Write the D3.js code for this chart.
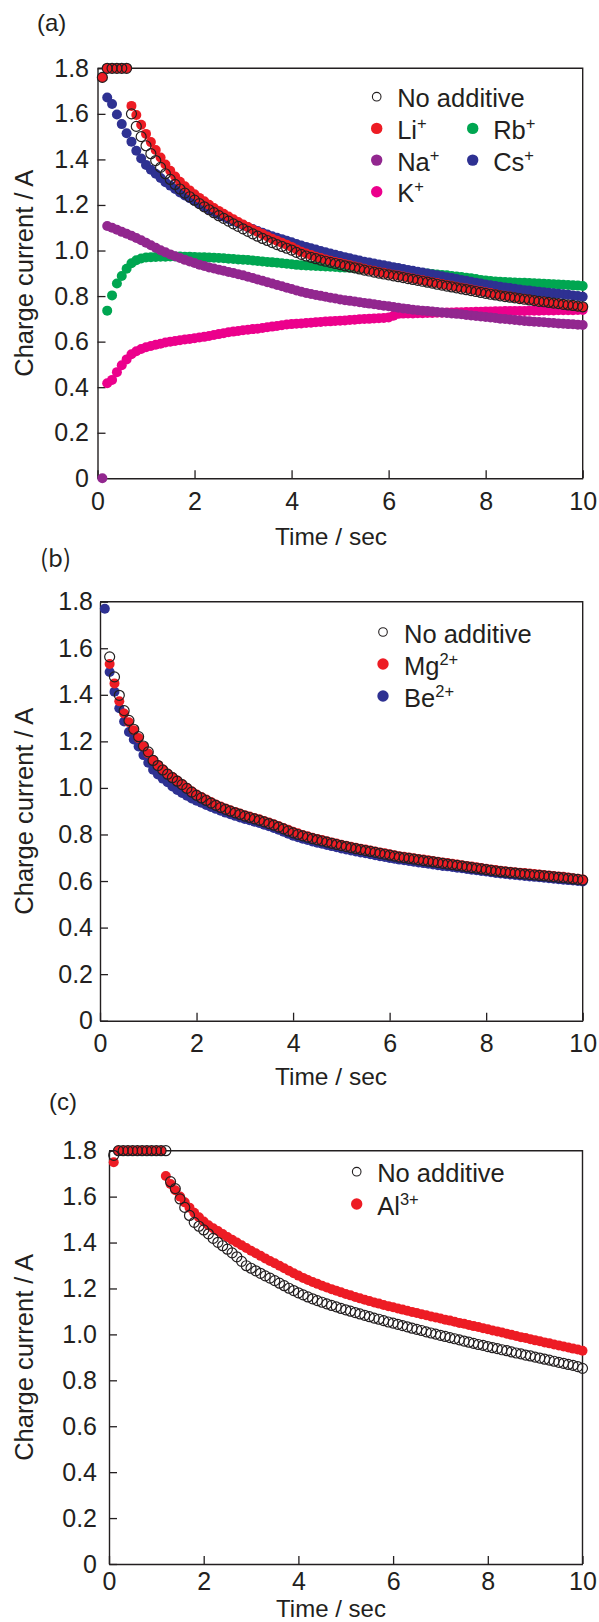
<!DOCTYPE html>
<html><head><meta charset="utf-8">
<script src="https://cdn.jsdelivr.net/npm/d3@7"></script>
<style>
body{margin:0;background:#fff}
svg text{font-family:"Liberation Sans",Arial,Helvetica,sans-serif;fill:#231F20}
</style>
</head><body>
<svg id="chart" width="599" height="1622"></svg>
<script>
// ---------- DATA ----------
const time = [
0.1,0.2,0.3,0.4,0.5,0.6,0.7,0.8,0.9,1.0,
1.1,1.2,1.3,1.4,1.5,1.6,1.7,1.8,1.9,2.0,
2.1,2.2,2.3,2.4,2.5,2.6,2.7,2.8,2.9,3.0,
3.1,3.2,3.3,3.4,3.5,3.6,3.7,3.8,3.9,4.0,
4.1,4.2,4.3,4.4,4.5,4.6,4.7,4.8,4.9,5.0,
5.1,5.2,5.3,5.4,5.5,5.6,5.7,5.8,5.9,6.0,
6.1,6.2,6.3,6.4,6.5,6.6,6.7,6.8,6.9,7.0,
7.1,7.2,7.3,7.4,7.5,7.6,7.7,7.8,7.9,8.0,
8.1,8.2,8.3,8.4,8.5,8.6,8.7,8.8,8.9,9.0,
9.1,9.2,9.3,9.4,9.5,9.6,9.7,9.8,9.9,10.0];

const xTicks = [0,2,4,6,8,10];
const xTickLabels = ["0","2","4","6","8","10"];
const yTicks = [0,0.2,0.4,0.6,0.8,1.0,1.2,1.4,1.6,1.8];
const yTickLabels = ["0","0.2","0.4","0.6","0.8","1.0","1.2","1.4","1.6","1.8"];

// (a) monovalent additives
const noAdditiveA = [
1.76,1.80,1.80,1.80,1.80,1.80,1.60,1.545,1.50,1.46,
1.425,1.395,1.365,1.337,1.312,1.29,1.27,1.252,1.236,1.221,
1.206,1.192,1.179,1.166,1.153,1.141,1.129,1.117,1.106,1.095,
1.084,1.073,1.063,1.053,1.044,1.035,1.026,1.018,1.010,1.002,
0.992,0.983,0.976,0.970,0.964,0.958,0.953,0.948,0.943,0.938,
0.933,0.928,0.924,0.919,0.914,0.910,0.905,0.901,0.897,0.893,
0.889,0.885,0.881,0.877,0.873,0.869,0.865,0.861,0.857,0.852,
0.848,0.844,0.840,0.836,0.832,0.828,0.824,0.820,0.816,0.812,
0.808,0.805,0.801,0.798,0.795,0.792,0.789,0.786,0.783,0.780,
0.777,0.775,0.772,0.769,0.767,0.764,0.761,0.759,0.756,0.753];
const liA = [
1.76,1.80,1.80,1.80,1.80,1.80,1.635,1.595,1.552,1.512,
1.476,1.441,1.408,1.378,1.350,1.325,1.302,1.282,1.264,1.247,
1.231,1.216,1.201,1.187,1.174,1.161,1.149,1.137,1.125,1.114,
1.103,1.092,1.082,1.072,1.062,1.052,1.043,1.034,1.025,1.016,
1.005,0.995,0.987,0.980,0.973,0.967,0.961,0.955,0.950,0.945,
0.940,0.935,0.930,0.925,0.920,0.915,0.911,0.906,0.902,0.898,
0.894,0.890,0.886,0.882,0.877,0.873,0.869,0.865,0.861,0.857,
0.853,0.849,0.845,0.841,0.837,0.833,0.829,0.825,0.821,0.817,
0.813,0.809,0.805,0.801,0.798,0.794,0.791,0.788,0.785,0.781,
0.778,0.775,0.772,0.769,0.766,0.763,0.760,0.757,0.754,0.751];
const csA = [
null,1.672,1.643,1.597,1.555,1.515,1.478,1.438,1.404,1.376,
1.355,1.337,1.318,1.300,1.285,1.270,1.255,1.242,1.230,1.218,
1.205,1.192,1.180,1.169,1.158,1.148,1.138,1.129,1.120,1.111,
1.102,1.094,1.086,1.078,1.070,1.063,1.056,1.050,1.043,1.036,
1.029,1.022,1.016,1.010,1.004,0.998,0.992,0.987,0.981,0.976,
0.971,0.966,0.961,0.956,0.951,0.947,0.943,0.939,0.935,0.931,
0.927,0.923,0.919,0.915,0.911,0.907,0.903,0.899,0.895,0.891,
0.887,0.883,0.879,0.875,0.871,0.867,0.863,0.859,0.855,0.851,
0.847,0.844,0.841,0.838,0.835,0.832,0.829,0.826,0.824,0.821,
0.819,0.817,0.815,0.812,0.810,0.808,0.806,0.803,0.800,0.797];
const rbA = [
null,0.736,0.803,0.855,0.888,0.920,0.944,0.957,0.965,0.969,
0.971,0.972,0.973,0.973,0.974,0.974,0.974,0.973,0.973,0.972,
0.971,0.970,0.969,0.968,0.967,0.966,0.964,0.963,0.961,0.960,
0.958,0.956,0.954,0.952,0.950,0.948,0.946,0.944,0.942,0.940,
0.937,0.935,0.934,0.933,0.932,0.931,0.930,0.929,0.928,0.926,
0.925,0.924,0.922,0.921,0.920,0.919,0.918,0.916,0.915,0.914,
0.912,0.911,0.909,0.907,0.905,0.903,0.901,0.899,0.897,0.895,
0.893,0.891,0.888,0.886,0.884,0.881,0.878,0.875,0.871,0.868,
0.866,0.864,0.863,0.862,0.861,0.860,0.859,0.858,0.857,0.856,
0.855,0.854,0.853,0.852,0.851,0.850,0.849,0.847,0.846,0.844];
const naA = [
0.0,1.108,1.100,1.091,1.082,1.074,1.065,1.055,1.045,1.034,
1.023,1.012,1.001,0.992,0.983,0.975,0.967,0.959,0.952,0.945,
0.938,0.932,0.926,0.921,0.916,0.911,0.906,0.901,0.896,0.891,
0.885,0.879,0.873,0.867,0.861,0.855,0.849,0.843,0.837,0.831,
0.825,0.819,0.814,0.809,0.805,0.801,0.797,0.793,0.789,0.785,
0.782,0.779,0.776,0.773,0.770,0.767,0.764,0.761,0.758,0.755,
0.752,0.749,0.746,0.743,0.740,0.738,0.736,0.734,0.732,0.730,
0.728,0.726,0.724,0.722,0.720,0.717,0.715,0.713,0.710,0.708,
0.706,0.704,0.701,0.699,0.697,0.695,0.693,0.691,0.689,0.687,
0.686,0.685,0.683,0.682,0.680,0.679,0.677,0.676,0.674,0.673];
const kA = [
null,0.417,0.432,0.466,0.496,0.522,0.545,0.558,0.568,0.575,
0.581,0.586,0.591,0.596,0.600,0.603,0.606,0.609,0.612,0.615,
0.618,0.621,0.625,0.629,0.633,0.637,0.641,0.644,0.647,0.650,
0.652,0.655,0.657,0.660,0.663,0.666,0.669,0.672,0.675,0.677,
0.679,0.680,0.682,0.683,0.685,0.686,0.688,0.689,0.691,0.692,
0.693,0.695,0.696,0.698,0.699,0.700,0.702,0.703,0.704,0.706,
0.714,0.722,0.723,0.724,0.724,0.725,0.725,0.726,0.726,0.727,
0.727,0.728,0.728,0.729,0.729,0.730,0.730,0.731,0.731,0.732,
0.732,0.733,0.733,0.734,0.734,0.735,0.735,0.735,0.736,0.736,
0.736,0.737,0.737,0.737,0.738,0.738,0.738,0.738,0.739,0.739];

// (b) divalent additives
const noAdditiveB = [
null,1.563,1.477,1.398,1.332,1.290,1.252,1.220,1.180,1.155,
1.118,1.096,1.077,1.059,1.044,1.029,1.014,0.998,0.982,0.968,
0.957,0.946,0.935,0.925,0.916,0.908,0.900,0.893,0.886,0.879,
0.873,0.867,0.861,0.854,0.847,0.840,0.832,0.824,0.815,0.807,
0.800,0.794,0.788,0.782,0.777,0.772,0.767,0.762,0.757,0.752,
0.748,0.743,0.739,0.735,0.731,0.727,0.723,0.719,0.715,0.711,
0.707,0.703,0.700,0.697,0.694,0.691,0.688,0.685,0.682,0.679,
0.676,0.673,0.670,0.667,0.664,0.661,0.658,0.655,0.652,0.649,
0.646,0.643,0.640,0.638,0.636,0.634,0.632,0.630,0.628,0.626,
0.624,0.622,0.620,0.618,0.616,0.614,0.612,0.609,0.607,0.604];
const mgB = [
null,1.532,1.449,1.372,1.320,1.282,1.248,1.214,1.178,1.148,
1.120,1.099,1.080,1.062,1.047,1.032,1.017,1.001,0.986,0.972,
0.961,0.950,0.939,0.929,0.920,0.912,0.904,0.897,0.890,0.883,
0.877,0.871,0.865,0.858,0.851,0.844,0.836,0.828,0.820,0.812,
0.805,0.798,0.792,0.786,0.781,0.776,0.771,0.766,0.761,0.756,
0.752,0.747,0.743,0.739,0.735,0.731,0.727,0.723,0.719,0.715,
0.711,0.707,0.704,0.701,0.698,0.695,0.692,0.689,0.686,0.683,
0.680,0.677,0.674,0.671,0.668,0.665,0.662,0.659,0.656,0.653,
0.650,0.647,0.644,0.642,0.640,0.638,0.636,0.634,0.632,0.630,
0.628,0.626,0.624,0.622,0.620,0.618,0.615,0.612,0.610,0.607];
const beB = [
1.77,1.498,1.413,1.342,1.285,1.240,1.208,1.178,1.141,1.108,
1.078,1.058,1.040,1.024,1.006,0.991,0.978,0.966,0.955,0.945,
0.936,0.927,0.918,0.910,0.902,0.894,0.887,0.880,0.873,0.867,
0.861,0.855,0.849,0.842,0.835,0.828,0.820,0.812,0.803,0.795,
0.788,0.782,0.776,0.770,0.765,0.760,0.755,0.750,0.745,0.740,
0.736,0.731,0.727,0.723,0.719,0.715,0.711,0.707,0.703,0.699,
0.696,0.692,0.689,0.686,0.683,0.680,0.677,0.674,0.671,0.668,
0.665,0.663,0.660,0.657,0.655,0.652,0.649,0.646,0.643,0.641,
0.638,0.635,0.632,0.630,0.628,0.626,0.624,0.622,0.620,0.618,
0.616,0.614,0.612,0.610,0.608,0.606,0.604,0.602,0.600,0.598];

// (c) trivalent additive
const noAdditiveC = [
1.78,1.80,1.80,1.80,1.80,1.80,1.80,1.80,1.80,1.80,
1.80,1.80,1.665,1.635,1.590,1.553,1.518,1.488,1.471,1.455,
1.438,1.418,1.401,1.386,1.371,1.355,1.338,1.318,1.299,1.288,
1.277,1.266,1.255,1.245,1.234,1.223,1.212,1.201,1.191,1.181,
1.172,1.163,1.155,1.147,1.140,1.133,1.126,1.120,1.113,1.107,
1.101,1.095,1.089,1.083,1.077,1.071,1.066,1.060,1.054,1.049,
1.044,1.038,1.033,1.027,1.022,1.017,1.011,1.006,1.001,0.996,
0.991,0.986,0.981,0.976,0.971,0.966,0.961,0.956,0.952,0.947,
0.942,0.938,0.933,0.929,0.924,0.919,0.915,0.910,0.906,0.901,
0.897,0.892,0.888,0.883,0.878,0.874,0.869,0.865,0.860,0.852];
const alC = [
1.75,1.80,1.80,1.80,1.80,1.80,1.80,1.80,1.80,1.80,
1.80,1.690,1.655,1.628,1.600,1.575,1.552,1.530,1.510,1.492,
1.475,1.462,1.450,1.437,1.424,1.412,1.400,1.388,1.376,1.364,
1.353,1.342,1.331,1.320,1.310,1.299,1.288,1.277,1.266,1.256,
1.246,1.237,1.228,1.220,1.212,1.204,1.197,1.190,1.183,1.176,
1.170,1.163,1.157,1.151,1.145,1.139,1.134,1.128,1.123,1.118,
1.113,1.108,1.103,1.098,1.093,1.088,1.083,1.078,1.074,1.069,
1.064,1.060,1.055,1.050,1.046,1.041,1.036,1.032,1.027,1.022,
1.017,1.013,1.008,1.003,0.998,0.993,0.988,0.984,0.979,0.974,
0.970,0.965,0.961,0.956,0.952,0.947,0.943,0.938,0.934,0.929];

// ---------- STYLE ----------
const C = {red:"#ED1C24", green:"#00A651", purple:"#92278F", blue:"#2E3192", pink:"#EC008C", ink:"#231F20"};
const FS = 25;

const svg = d3.select("#chart");

function drawPanel(p, series, legend) {
  const x = d3.scaleLinear().domain([0, 10]).range([p.l, p.r]);
  const y = d3.scaleLinear().domain([0, 1.8]).range([p.b, p.t]);
  const g = svg.append("g");

  g.append("path").attr("d", `M${p.l},${p.t}H${p.r}V${p.b}`)
    .attr("fill", "none").attr("stroke", C.ink).attr("stroke-width", 1.4);

  const yAxis = d3.axisLeft(y).tickValues(yTicks).tickFormat((d, i) => yTickLabels[i])
    .tickSizeInner(-8).tickSizeOuter(0).tickPadding(p.l - p.lab);
  const xAxis = d3.axisBottom(x).tickValues(xTicks).tickFormat((d, i) => xTickLabels[i])
    .tickSizeInner(-8).tickSizeOuter(0).tickPadding(p.xPad);

  const gy = g.append("g").attr("transform", `translate(${p.l},0)`).call(yAxis);
  const gx = g.append("g").attr("transform", `translate(0,${p.b})`).call(xAxis);
  [gx, gy].forEach(a => {
    a.attr("font-family", null).attr("font-size", null);
    a.select(".domain").attr("stroke", C.ink).attr("stroke-width", 1.4);
    a.selectAll(".tick line").attr("stroke", C.ink).attr("stroke-width", 1.3);
    a.selectAll(".tick text").attr("font-size", FS).attr("fill", C.ink);
  });

  series.forEach(s => {
    const pts = time.map((t, i) => ({t, v: s.values[i]})).filter(d => d.v != null);
    const sel = g.append("g").selectAll("circle").data(pts).join("circle")
      .attr("cx", d => x(d.t)).attr("cy", d => y(d.v));
    if (s.open) {
      sel.attr("r", 5).attr("fill", "none").attr("stroke", C.ink).attr("stroke-width", 1.2);
    } else {
      sel.attr("r", 5).attr("fill", s.color);
    }
  });

  legend.forEach(it => {
    const lx = p.legX[it.col], ly = p.legY + it.row * p.legDy;
    if (it.open) {
      g.append("circle").attr("cx", lx).attr("cy", ly).attr("r", 4.3)
        .attr("fill", "none").attr("stroke", C.ink).attr("stroke-width", 1.1);
    } else {
      g.append("circle").attr("cx", lx).attr("cy", ly).attr("r", 5.7).attr("fill", it.color);
    }
    const t = g.append("text").attr("x", lx + p.legGap).attr("y", ly + 10.5).attr("font-size", 25.5);
    t.append("tspan").text(it.label);
    if (it.sup) t.append("tspan").attr("font-size", 16.5).attr("dy", -10).text(it.sup);
  });

  g.append("text").attr("x", p.tagX).attr("y", p.tagY).attr("font-size", 24)
    .style("font-family", p.tagFont || null).text(p.tag);
  g.append("text").attr("x", 331).attr("y", p.xtY).attr("font-size", p.xtFS)
    .attr("text-anchor", "middle").text("Time / sec");
  g.append("text").attr("transform", `translate(33,${(p.t + p.b) / 2}) rotate(-90)`)
    .attr("font-size", 25.5).attr("text-anchor", "middle").text("Charge current / A");
}

drawPanel(
  {l: 97.5, r: 582.7, t: 68.3, b: 478.3, lab: 89, xPad: 14, tag: "(a)", tagX: 37, tagY: 31,
   xtY: 545, xtFS: 24.5,
   legX: [376.7, 472.7], legGap: 20.5, legY: 96.7, legDy: 31.7},
  [
    {values: kA, color: C.pink},
    {values: rbA, color: C.green},
    {values: naA, color: C.purple},
    {values: csA, color: C.blue},
    {values: liA, color: C.red},
    {values: noAdditiveA, open: true}
  ],
  [
    {label: "No additive", open: true, col: 0, row: 0},
    {label: "Li", sup: "+", color: C.red, col: 0, row: 1},
    {label: "Rb", sup: "+", color: C.green, col: 1, row: 1},
    {label: "Na", sup: "+", color: C.purple, col: 0, row: 2},
    {label: "Cs", sup: "+", color: C.blue, col: 1, row: 2},
    {label: "K", sup: "+", color: C.pink, col: 0, row: 3}
  ]
);

drawPanel(
  {l: 100, r: 582.7, t: 601.7, b: 1020.7, lab: 93, xPad: 14, tag: "(b)", tagX: 40, tagY: 567,
   tagFont: "'Noto Sans CJK JP'", xtY: 1085, xtFS: 24.5,
   legX: [383], legGap: 21, legY: 632, legDy: 32},
  [
    {values: beB, color: C.blue},
    {values: mgB, color: C.red},
    {values: noAdditiveB, open: true}
  ],
  [
    {label: "No additive", open: true, col: 0, row: 0},
    {label: "Mg", sup: "2+", color: C.red, col: 0, row: 1},
    {label: "Be", sup: "2+", color: C.blue, col: 0, row: 2}
  ]
);

drawPanel(
  {l: 109, r: 582.5, t: 1150.7, b: 1564, lab: 97, xPad: 8, tag: "(c)", tagX: 49, tagY: 1110,
   xtY: 1616.8, xtFS: 24,
   legX: [356.7], legGap: 20.5, legY: 1171.7, legDy: 32.3},
  [
    {values: alC, color: C.red},
    {values: noAdditiveC, open: true}
  ],
  [
    {label: "No additive", open: true, col: 0, row: 0},
    {label: "Al", sup: "3+", color: C.red, col: 0, row: 1}
  ]
);
</script>
</body></html>
